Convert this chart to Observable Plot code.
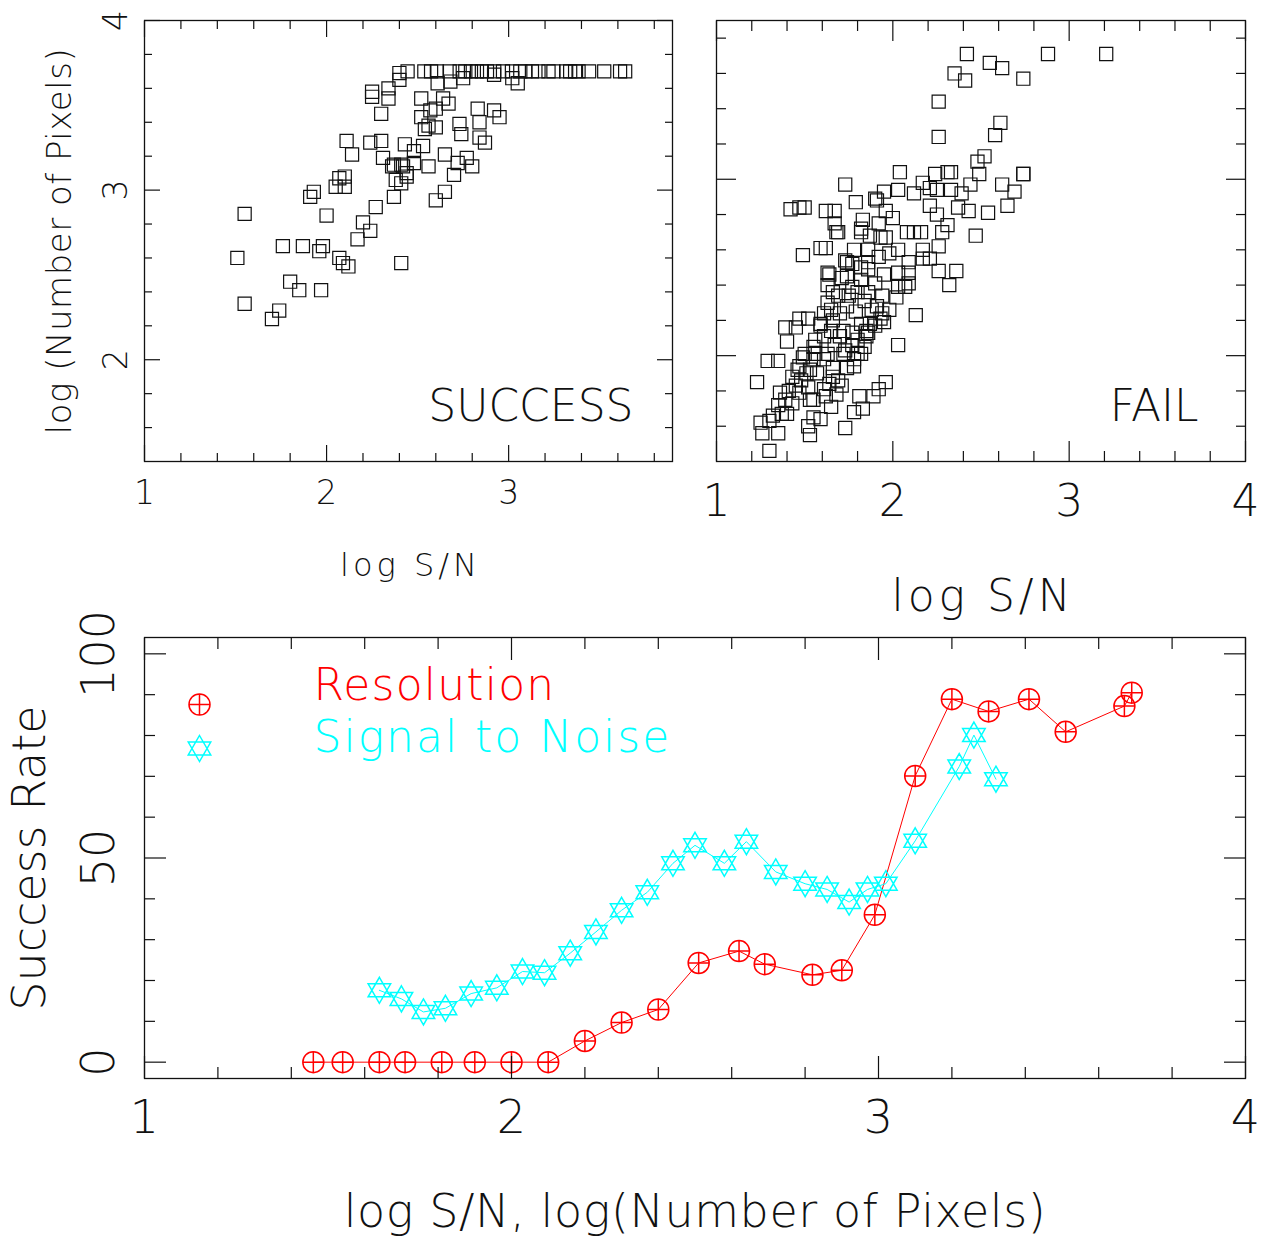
<!DOCTYPE html>
<html><head><meta charset="utf-8">
<script src="https://cdn.jsdelivr.net/npm/d3@7"></script>
<script src="https://cdn.jsdelivr.net/npm/@observablehq/plot@0.6"></script>
<style>
body{margin:0;background:#fff;}
#chart{position:relative;width:1265px;height:1237px;background:#fff;overflow:hidden;}
#chart svg{position:absolute;overflow:visible;}
</style></head><body><div id="chart"></div>
<script>
// ---------------- DATA ----------------
// SUCCESS panel: log S/N vs log(Number of Pixels)
const successX = [2.445,2.537,2.574,2.606,2.676,2.731,2.762,2.793,2.826,2.853,2.881,2.921,2.969,3.018,3.064,3.091,3.128,3.164,3.219,3.246,3.316,3.338,3.365,3.384,3.442,3.525,3.612,3.640,
 2.40,2.40,2.61,2.68,2.75,2.92,3.02,3.05,2.25,2.25,2.34,2.34,2.52,2.64,2.67,2.60,2.57,2.30,2.83,2.92,2.95,2.52,2.73,2.84,2.56,2.60,2.54,2.74,2.84,2.87,
 2.11,2.14,2.24,2.30,2.43,2.48,2.53,2.31,2.37,2.41,2.48,2.56,2.65,2.77,2.72,2.80,2.70,2.38,2.44,2.41,2.07,2.10,2.05,2.10,1.93,1.91,2.37,2.65,2.60,
 1.55,2.00,2.27,2.20,2.24,2.17,1.76,1.87,1.98,1.96,1.51,2.07,2.09,2.12,2.41,1.80,1.85,1.97,1.55,1.74,1.70,2.36,2.42,2.44];
const successY = [3.70,3.70,3.70,3.70,3.70,3.70,3.70,3.70,3.70,3.70,3.70,3.70,3.70,3.70,3.70,3.70,3.70,3.70,3.70,3.70,3.70,3.70,3.70,3.70,3.70,3.70,3.70,3.70,
 3.69,3.65,3.63,3.64,3.66,3.68,3.66,3.63,3.58,3.55,3.60,3.54,3.54,3.54,3.51,3.48,3.47,3.45,3.48,3.47,3.43,3.43,3.39,3.40,3.38,3.37,3.36,3.33,3.31,3.28,
 3.29,3.21,3.28,3.29,3.27,3.23,3.26,3.19,3.15,3.15,3.16,3.14,3.21,3.19,3.16,3.14,3.09,3.06,3.08,3.04,3.07,3.08,3.02,3.02,2.99,2.96,2.96,2.99,2.94,
 2.86,2.85,2.90,2.81,2.76,2.71,2.67,2.67,2.67,2.64,2.60,2.60,2.57,2.55,2.57,2.46,2.41,2.41,2.33,2.29,2.24,3.14,3.14,3.10];

// FAIL panel
const failX = [2.42,2.88,3.21,2.55,2.62,2.35,2.41,2.74,2.26,2.61,2.58,2.26,2.52,2.48,2.49,2.74,2.74,2.04,2.24,2.31,2.33,2.44,2.62,2.69,2.65,2.54,2.43,2.37,
 1.73,1.95,1.91,1.79,2.03,2.12,2.17,2.21,2.25,2.33,2.39,2.21,2.25,2.31,2.28,2.47,1.42,1.47,1.50,1.62,1.67,1.67,1.69,1.49,1.59,1.62,1.83,1.82,1.87,1.93,1.96,
 1.90,1.96,2.00,2.08,2.16,2.03,1.78,1.74,1.63,1.86,1.92,2.17,2.21,2.17,2.26,2.26,2.36,2.32,2.13,2.03,1.96,1.89,1.83,1.78,1.73,1.23,1.29,1.35,1.30,1.25,1.26,
 1.35,1.52,1.53,1.59,1.39,1.45,1.47,1.52,1.40,1.64,1.63,1.73,1.71,1.74,1.82,1.86,1.95,2.03,2.09,2.09,2.03,2.02,1.94,1.91,1.94,1.95,1.87,1.82,1.86,1.80,1.77,
 1.77,1.72,1.78,1.82,1.74,1.66,1.66,1.71,1.64,1.62,1.65,1.55,1.55,1.63,1.56,1.50,1.56,1.61,1.65,1.66,1.59,1.63,1.65,1.69,1.75,1.77,1.82,1.70,1.74,1.79,1.84,
 1.88,1.98,1.93,1.90,1.85,1.67,1.72,1.55,1.49,1.53,1.46,1.43,1.51,1.57,1.48,1.45,1.41,1.36,1.39,1.43,1.35,1.37,1.32,1.30,1.40,1.47,1.52,1.61,1.69,1.68,1.61,
 1.55,1.73,1.80,1.78,1.85,1.84,1.70,1.53,1.59,1.47,1.66,1.61,1.80,1.86,1.90,1.77,1.86,1.98,2.12,1.92,1.82,1.68,2.09,1.81,1.92,2.07];
const failY = [3.71,3.71,3.71,3.66,3.63,3.60,3.56,3.57,3.44,3.32,3.25,3.24,3.13,3.10,3.03,3.03,3.03,3.04,3.03,3.04,3.04,2.97,2.97,2.93,2.85,2.81,2.82,2.84,
 2.97,2.93,2.88,2.87,2.94,2.92,2.98,2.95,2.94,2.94,2.92,2.85,2.80,2.74,2.70,2.68,2.83,2.84,2.84,2.82,2.82,2.75,2.70,2.57,2.61,2.61,2.77,2.70,2.68,2.67,2.67,
 2.89,2.82,2.78,2.70,2.70,2.60,2.60,2.53,2.47,2.60,2.56,2.60,2.55,2.55,2.62,2.48,2.48,2.40,2.23,2.06,1.85,1.77,1.70,1.68,1.59,1.85,1.97,1.97,1.46,1.62,1.56,
 1.56,1.60,1.55,1.64,2.16,2.16,2.21,2.21,2.08,2.46,2.40,2.54,2.44,2.45,2.50,2.49,2.46,2.47,2.47,2.41,2.39,2.33,2.34,2.28,2.24,2.19,2.18,2.18,2.13,2.09,2.13,
 2.06,2.01,1.98,2.01,1.93,1.93,1.88,1.83,1.84,1.77,1.71,1.75,1.65,2.01,2.01,2.01,2.09,2.11,2.14,2.20,2.18,2.30,2.26,2.34,2.34,2.39,2.43,2.24,2.28,2.25,2.31,
 2.26,2.26,2.21,2.17,2.14,2.06,2.14,2.05,1.99,1.92,1.92,1.88,1.90,1.90,1.86,1.83,1.80,1.79,1.75,1.73,1.72,1.67,1.66,1.63,1.67,1.79,1.82,1.81,1.86,1.78,1.98,
 1.98,2.03,2.01,1.94,2.11,2.05,2.11,1.75,2.17,1.94,2.36,2.24,2.36,2.36,2.41,2.52,2.53,2.58,2.70,2.75,2.72,2.70,2.53,1.77,1.81,2.39];

// Bottom panel: success rate (%)
const resolutionX = [1.46,1.54,1.64,1.71,1.81,1.90,2.00,2.10,2.20,2.30,2.40,2.51,2.62,2.69,2.82,2.90,2.99,3.10,3.20,3.30,3.41,3.51,3.67,3.69];
const resolutionY = [0,0,0,0,0,0,0,0,5.2,9.7,12.9,24.3,27.2,24.0,21.4,22.5,36.1,70.1,88.9,85.9,88.9,80.9,87.2,90.5];
const snrX = [1.64,1.70,1.76,1.82,1.89,1.96,2.03,2.09,2.16,2.23,2.30,2.37,2.44,2.50,2.58,2.64,2.72,2.80,2.86,2.92,2.97,3.02,3.10,3.22,3.26,3.32];
const snrY = [17.6,15.5,12.3,13.2,16.8,18.2,22.2,21.9,26.7,31.9,37.2,41.6,48.7,53.1,48.7,54.0,46.6,43.7,42.3,39.2,42.3,43.7,54.2,72.4,80.1,69.3];

const seriesNames = ["Resolution", "Signal to Noise"];
const panelNames = ["SUCCESS", "FAIL"];
const axisTitles = {tlY: "log (Number of Pixels)", tlX: "log S/N", trX: "log S/N", bY: "Success Rate", bX: "log S/N, log(Number of Pixels)"};

// tick values
const tlXTickLabels = [1, 2, 3];
const tlYTickLabels = [2, 3, 4];
const trXTickLabels = [1, 2, 3, 4];
const bXTickLabels = [1, 2, 3, 4];
const bYTickLabels = [0, 50, 100];
const tlXMinor = [1.2,1.4,1.6,1.8,2.2,2.4,2.6,2.8,3.2,3.4,3.6,3.8];
const tlYMinor = [1.6,1.8,2.2,2.4,2.6,2.8,3.2,3.4,3.6,3.8];
const trXMinor = [1.2,1.4,1.6,1.8,2.2,2.4,2.6,2.8,3.2,3.4,3.6,3.8];
const trYMinor = [1.6,1.8,2.2,2.4,2.6,2.8,3.2,3.4,3.6,3.8];
const bXMinor = [1.2,1.4,1.6,1.8,2.2,2.4,2.6,2.8,3.2,3.4,3.6,3.8];
const bYMinor = [10,20,30,40,60,70,80,90];

// ---------------- STYLE ----------------
const FONT = "'DejaVu Sans', sans-serif";
const FW = 200;
const INK = "#111";
const RED = "#ff0000";
const CYAN = "#00ffff";

const circlePlus = {draw(ctx, size) {
  const r = Math.sqrt(size / Math.PI);
  ctx.moveTo(r, 0); ctx.arc(0, 0, r, 0, 2 * Math.PI);
  ctx.moveTo(-r, 0); ctx.lineTo(r, 0);
  ctx.moveTo(0, -r); ctx.lineTo(0, r);
}};
const hexagram = {draw(ctx, size) {
  const R = Math.sqrt(size / Math.PI);
  for (const a0 of [-90, 90]) {
    for (let k = 0; k < 3; k++) {
      const a = (a0 + k * 120) * Math.PI / 180;
      const px = R * Math.cos(a), py = R * Math.sin(a);
      if (k === 0) ctx.moveTo(px, py); else ctx.lineTo(px, py);
    }
    ctx.closePath();
  }
}};

function ticks(xMinor, xMajor, yMinor, yMajor, minorLen, majorLen) {
  const fmt = () => "";
  const o = {tickFormat: fmt, label: null, stroke: INK, strokeWidth: 1.2};
  return [
    ...["bottom", "top"].flatMap(a => [
      Plot.axisX({...o, anchor: a, ticks: xMinor, tickSize: -minorLen}),
      Plot.axisX({...o, anchor: a, ticks: xMajor, tickSize: -majorLen})
    ]),
    ...["left", "right"].flatMap(a => [
      Plot.axisY({...o, anchor: a, ticks: yMinor, tickSize: -minorLen}),
      Plot.axisY({...o, anchor: a, ticks: yMajor, tickSize: -majorLen})
    ])
  ];
}
const txt = (size, extra) => ({fontFamily: FONT, fontWeight: FW, fontSize: size, fill: INK, ...extra});

const chart = document.getElementById("chart");
function place(svg, left, top) { svg.style.left = left + "px"; svg.style.top = top + "px"; chart.appendChild(svg); }
function spacing(svg, label, value) {
  d3.select(svg).selectAll("text").filter(function () { return this.textContent === label; }).style("letter-spacing", value);
}
const baseStyle = {background: "transparent", overflow: "visible"};

// ---------------- TOP-LEFT: SUCCESS ----------------
const tl = Plot.plot({
  width: 700, height: 620,
  marginLeft: 144, marginRight: 28, marginTop: 20, marginBottom: 159,
  style: baseStyle,
  x: {domain: [1, 3.9], axis: null},
  y: {domain: [1.4, 4], axis: null},
  marks: [
    Plot.dot(successX.map((x, i) => ({x, y: successY[i]})), {x: "x", y: "y", symbol: "square", r: 7.4, stroke: INK, strokeWidth: 1.2, fill: "none"}),
    ...ticks(tlXMinor, tlXTickLabels, tlYMinor, tlYTickLabels, 8, 16),
    Plot.frame({stroke: INK, strokeWidth: 1.3}),
    Plot.text(tlXTickLabels, {x: d => d, text: d => String(d), frameAnchor: "bottom", dy: 32, lineAnchor: "middle", ...txt(33)}),
    Plot.text(tlYTickLabels, {y: d => d, text: d => String(d), frameAnchor: "left", dx: -28, rotate: -90, lineAnchor: "middle", textAnchor: "middle", ...txt(33)}),
    Plot.text([axisTitles.tlX], {frameAnchor: "bottom", dy: 104, dx: 2, lineAnchor: "middle", ...txt(32)}),
    Plot.text([axisTitles.tlY], {frameAnchor: "left", dx: -84, rotate: -90, lineAnchor: "middle", textAnchor: "middle", ...txt(34)}),
    Plot.text([panelNames[0]], {frameAnchor: "bottom-right", dx: -39, dy: -41, textAnchor: "end", lineAnchor: "bottom", ...txt(44)})
  ]
});
spacing(tl, axisTitles.tlX, "4px");
spacing(tl, axisTitles.tlY, "0.5px");
place(tl, 0, 0);

// ---------------- TOP-RIGHT: FAIL ----------------
const tr = Plot.plot({
  width: 565, height: 620,
  marginLeft: 16, marginRight: 20, marginTop: 20, marginBottom: 159,
  style: baseStyle,
  x: {domain: [1, 4], axis: null},
  y: {domain: [1.4, 3.9], axis: null},
  marks: [
    Plot.dot(failX.map((x, i) => ({x, y: failY[i]})), {x: "x", y: "y", symbol: "square", r: 7.4, stroke: INK, strokeWidth: 1.2, fill: "none"}),
    ...ticks(trXMinor, trXTickLabels, trYMinor, [2, 3], 10, 20),
    Plot.frame({stroke: INK, strokeWidth: 1.3}),
    Plot.text(trXTickLabels, {x: d => d, text: d => String(d), frameAnchor: "bottom", dy: 40, lineAnchor: "middle", ...txt(44)}),
    Plot.text([axisTitles.trX], {frameAnchor: "bottom", dy: 135, dx: 2, lineAnchor: "middle", ...txt(44)}),
    Plot.text([panelNames[1]], {frameAnchor: "bottom-right", dx: -47, dy: -41, textAnchor: "end", lineAnchor: "bottom", ...txt(44)})
  ]
});
spacing(tr, axisTitles.trX, "4px");
place(tr, 700, 0);

// ---------------- BOTTOM: SUCCESS RATE ----------------
const resData = resolutionX.map((x, i) => ({x, y: resolutionY[i]}));
const snrData = snrX.map((x, i) => ({x, y: snrY[i]}));
const bt = Plot.plot({
  width: 1265, height: 617,
  marginLeft: 144, marginRight: 20, marginTop: 17, marginBottom: 159,
  style: baseStyle,
  x: {domain: [1, 4], axis: null},
  y: {domain: [-4, 104], axis: null},
  marks: [
    Plot.line(resData, {x: "x", y: "y", stroke: RED, strokeWidth: 1}),
    Plot.dot(resData, {x: "x", y: "y", symbol: circlePlus, r: 10.5, stroke: RED, strokeWidth: 1.5, fill: "none"}),
    Plot.line(snrData, {x: "x", y: "y", stroke: CYAN, strokeWidth: 1}),
    Plot.dot(snrData, {x: "x", y: "y", symbol: hexagram, r: 13, stroke: CYAN, strokeWidth: 1.5, fill: "none"}),
    ...ticks(bXMinor, bXTickLabels, bYMinor, bYTickLabels, 11, 22),
    Plot.frame({stroke: INK, strokeWidth: 1.3}),
    Plot.text(bXTickLabels, {x: d => d, text: d => String(d), frameAnchor: "bottom", dy: 40, lineAnchor: "middle", ...txt(46)}),
    Plot.text(bYTickLabels, {y: d => d, text: d => String(d), frameAnchor: "left", dx: -45, rotate: -90, lineAnchor: "middle", textAnchor: "middle", ...txt(46)}),
    Plot.text([axisTitles.bX], {frameAnchor: "bottom", dy: 134, lineAnchor: "middle", ...txt(46)}),
    Plot.text([axisTitles.bY], {frameAnchor: "left", dx: -114, rotate: -90, lineAnchor: "middle", textAnchor: "middle", ...txt(46)}),
    // legend
    Plot.dot([seriesNames[0]], {frameAnchor: "top-left", dx: 55, dy: 67, symbol: circlePlus, r: 10.5, stroke: RED, strokeWidth: 1.5, fill: "none"}),
    Plot.dot([seriesNames[1]], {frameAnchor: "top-left", dx: 55, dy: 111, symbol: hexagram, r: 13, stroke: CYAN, strokeWidth: 1.5, fill: "none"}),
    Plot.text([seriesNames[0]], {frameAnchor: "top-left", dx: 169, dy: 48, textAnchor: "start", lineAnchor: "middle", ...txt(44, {fill: RED})}),
    Plot.text([seriesNames[1]], {frameAnchor: "top-left", dx: 169, dy: 100, textAnchor: "start", lineAnchor: "middle", ...txt(44, {fill: CYAN})})
  ]
});
spacing(bt, seriesNames[0], "1.2px");
spacing(bt, seriesNames[1], "2px");
spacing(bt, axisTitles.bX, "0.6px");
place(bt, 0, 620);
</script></body></html>
